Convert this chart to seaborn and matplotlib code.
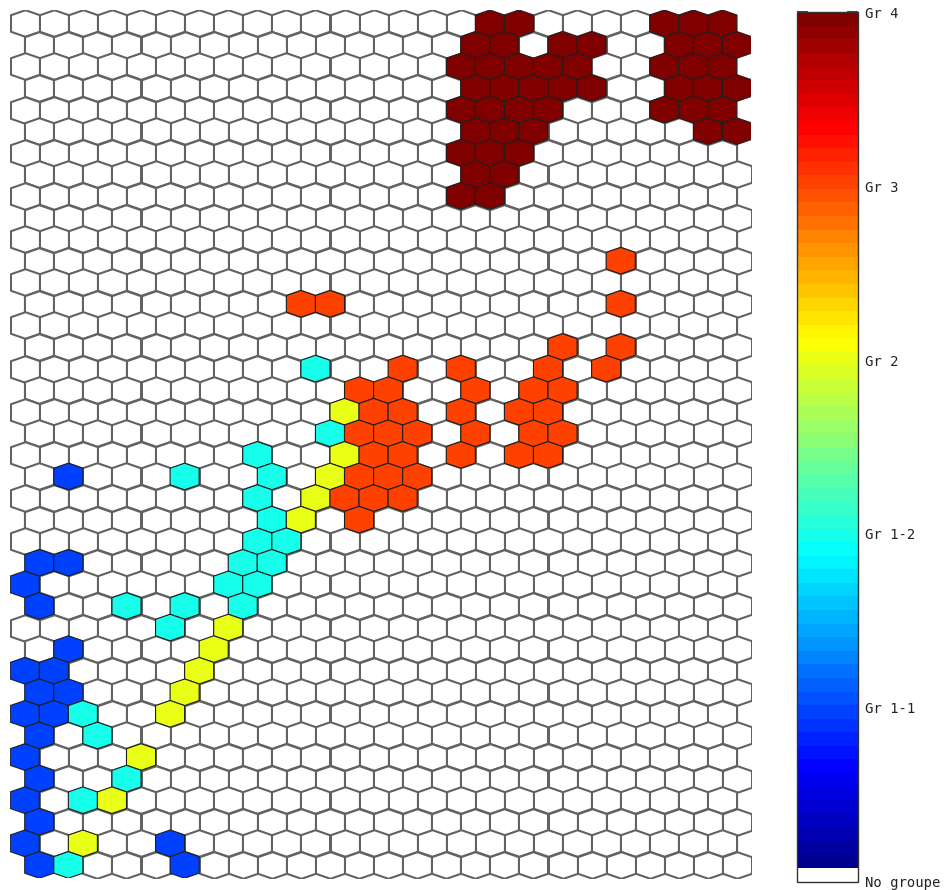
import numpy as np
import pandas as pd
import matplotlib
matplotlib.use("Agg")
import matplotlib.pyplot as plt
import seaborn as sns
from matplotlib.colors import LinearSegmentedColormap, ListedColormap, Normalize
from matplotlib.cm import ScalarMappable
from matplotlib.path import Path

# grid size of the map (row 0 at the top, odd rows shifted half a cell right)
n_rows = 40
n_cols = 25

group_labels = ["No groupe", "Gr 1-1", "Gr 1-2", "Gr 2", "Gr 3", "Gr 4"]

# coloured cells per group: row -> columns
gr4_cells = {0: [16, 17, 22, 23, 24], 1: [15, 16, 18, 19, 22, 23, 24],
             2: [15, 16, 17, 18, 19, 22, 23, 24], 3: [15, 16, 17, 18, 19, 22, 23, 24],
             4: [15, 16, 17, 18, 22, 23, 24], 5: [15, 16, 17, 23, 24],
             6: [15, 16, 17], 7: [15, 16], 8: [15, 16]}
gr3_cells = {11: [20], 13: [9, 10, 20], 15: [18, 20], 16: [13, 15, 18, 20],
             17: [11, 12, 15, 17, 18], 18: [12, 13, 15, 17, 18],
             19: [11, 12, 13, 15, 17, 18], 20: [12, 13, 15, 17, 18],
             21: [11, 12, 13], 22: [11, 12, 13], 23: [11]}
gr2_cells = {18: [11], 20: [11], 21: [10], 22: [10], 23: [9], 28: [7], 29: [6],
             30: [6], 31: [5], 32: [5], 34: [4], 36: [3], 38: [2]}
gr12_cells = {16: [10], 19: [10], 20: [8], 21: [5, 8], 22: [8], 23: [8], 24: [8, 9],
              25: [7, 8], 26: [7, 8], 27: [3, 5, 7], 28: [5], 32: [2], 33: [2],
              35: [3], 36: [2], 39: [1]}
gr11_cells = {21: [1], 25: [0, 1], 26: [0], 27: [0], 29: [1], 30: [0, 1], 31: [0, 1],
              32: [0, 1], 33: [0], 34: [0], 35: [0], 36: [0], 37: [0], 38: [0, 5],
              39: [0, 5]}

# build the table of cells
level = np.zeros((n_rows, n_cols), dtype=int)
for lv, cells in [(1, gr11_cells), (2, gr12_cells), (3, gr2_cells),
                  (4, gr3_cells), (5, gr4_cells)]:
    for r, cols in cells.items():
        level[r, cols] = lv

rows, cols = np.meshgrid(np.arange(n_rows), np.arange(n_cols), indexing="ij")
df = pd.DataFrame({"row": rows.ravel(), "col": cols.ravel(), "level": level.ravel()})
df["x"] = df["col"] + 0.5 * (df["row"] % 2)

# matlab style jet, 64 steps, lowest step white for "No groupe"
jet = LinearSegmentedColormap("mjet", {
    "red": [(0, 0, 0), (0.375, 0, 0), (0.625, 1, 1), (0.875, 1, 1), (1, 0.5, 0.5)],
    "green": [(0, 0, 0), (0.125, 0, 0), (0.375, 1, 1), (0.625, 1, 1), (0.875, 0, 0), (1, 0, 0)],
    "blue": [(0, 0.5, 0.5), (0.125, 1, 1), (0.375, 1, 1), (0.625, 0, 0), (1, 0, 0)],
})
steps = jet(np.linspace(0, 1, 64))
steps[0] = [1, 1, 1, 1]
cmap = ListedColormap(steps)
norm = Normalize(0, 5)

sns.set_style("white")
plt.rcParams["font.family"] = ["DejaVu Sans Mono", "DejaVu Sans"]

W, H = 944, 890
fig = plt.figure(figsize=(W / 100, H / 100), dpi=100)

# hex geometry in pixels (flattened hexagons)
pitch_x = 29.07
pitch_y = 21.58
a = 13.3
b = pitch_y - a
hw = pitch_x / 2
left_px, top_px = 10.2, 10.0
ax_w = pitch_x * (n_cols + 0.5)
ax_h = pitch_y * (n_rows - 1) + 2 * a
ax = fig.add_axes([left_px / W, (H - top_px - ax_h) / H, ax_w / W, ax_h / H])
ax.set_xlim(-0.5, n_cols)
ax.set_ylim(n_rows - 1 + a / pitch_y, -a / pitch_y)
ax.axis("off")

verts = [(0, a), (hw, b), (hw, -b), (0, -a), (-hw, -b), (-hw, b), (0, a)]
hex_marker = Path(verts, closed=True)
msize = (pitch_x * 72 / 100) ** 2

empty = df[df["level"] == 0]
filled = df[df["level"] > 0]
sns.scatterplot(data=empty, x="x", y="row", color="white", marker=hex_marker,
                s=msize, edgecolor="#626262", linewidth=1.5, legend=False, ax=ax)
sns.scatterplot(data=filled, x="x", y="row", hue="level", palette=cmap,
                hue_norm=norm, marker=hex_marker, s=msize, edgecolor="#1e1e1e",
                linewidth=0.8, legend=False, ax=ax)

# colour bar
cax = fig.add_axes([797.3 / W, (H - 881.7) / H, 61 / W, 869.4 / H])
cb = fig.colorbar(ScalarMappable(norm=norm, cmap=cmap), cax=cax, ticks=range(6))
cb.set_ticklabels(group_labels)
cb.outline.set_edgecolor("#333333")
cb.outline.set_linewidth(1.0)
cax.tick_params(direction="in", left=True, right=True, length=8, width=1.3,
                color="#333333", labelcolor="#222222", labelsize=10, pad=5)

fig.savefig("out.png", dpi=100)
